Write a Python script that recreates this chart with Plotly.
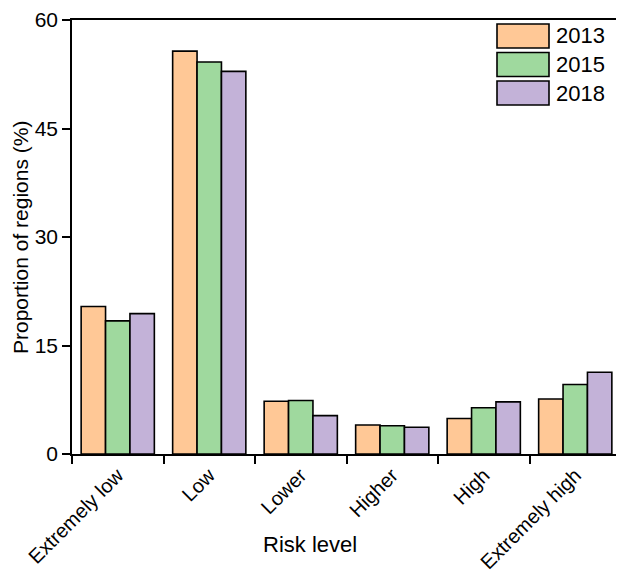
import plotly.graph_objects as go

# risk level categories and the share of regions (%) per year
levels = ['Extremely low', 'Low', 'Lower', 'Higher', 'High', 'Extremely high']
years = ['2013', '2015', '2018']
p2013 = [20.4, 55.7, 7.3, 4.0, 4.9, 7.6]
p2015 = [18.4, 54.2, 7.4, 3.9, 6.4, 9.6]
p2018 = [19.4, 52.9, 5.3, 3.7, 7.2, 11.3]
y_ticks = [0, 15, 30, 45, 60]

colors = ['#FFC896', '#9FD99E', '#C3B2D8']
font = 'Liberation Sans, Arial, sans-serif'

# page body has an 8px margin, so the figure is a bit smaller than the window
OFF = 8
FW, FH = 624 - OFF, 577 - OFF
L, R, T, B = 64, 3, 12, 123
W, H = FW - L - R, FH - T - B


def px(x):
    # window pixel -> paper x
    return (x - OFF - L) / W


def py(y):
    # window pixel -> paper y
    return 1 - (y - OFF - T) / H


fig = go.Figure()
for name, vals, col in zip(years, [p2013, p2015, p2018], colors):
    fig.add_trace(go.Bar(
        x=levels, y=vals, name=name,
        marker=dict(color=col, line=dict(color='black', width=1.6)),
        showlegend=False
    ))

# legend drawn by hand so the swatches are wide like the original
for i, (name, col) in enumerate(zip(years, colors)):
    top = 24 + 28.5 * i
    bot = top + 24
    fig.add_shape(type='rect', xref='paper', yref='paper',
                  x0=px(497), x1=px(549), y0=py(bot), y1=py(top),
                  fillcolor=col, line=dict(color='black', width=1.6))
    fig.add_annotation(xref='paper', yref='paper', x=px(554),
                       y=py((top + bot) / 2), text=name,
                       showarrow=False, xanchor='left', yanchor='middle',
                       font=dict(size=22, color='black', family=font))

# axis titles as annotations (they sit between the slanted labels)
fig.add_annotation(xref='paper', yref='paper', x=px(310), y=py(544),
                   text='Risk level', showarrow=False,
                   xanchor='center', yanchor='middle',
                   font=dict(size=22, color='black', family=font))
fig.add_annotation(xref='paper', yref='paper', x=px(20), y=py(238),
                   text='Proportion of regions (%)',
                   textangle=-90, showarrow=False,
                   xanchor='center', yanchor='middle',
                   font=dict(size=21, color='black', family=font))

fig.update_layout(
    width=FW, height=FH,
    margin=dict(l=L, r=R, t=T, b=B),
    plot_bgcolor='white', paper_bgcolor='white',
    barmode='group', bargap=0.2, bargroupgap=0,
    font=dict(family=font, size=20, color='black'),
)
fig.update_xaxes(
    automargin=False, ticklabeloverflow='allow',
    tickangle=-45, tickson='boundaries', ticks='outside', ticklen=8,
    tickwidth=1.6, tickcolor='black',
    showline=True, linecolor='black', linewidth=1.6, mirror=True,
    tickfont=dict(size=20)
)
fig.update_yaxes(
    automargin=False, ticklabeloverflow='allow',
    range=[0, 60], tickvals=y_ticks, ticks='outside', ticklen=8,
    tickwidth=1.6, tickcolor='black',
    showline=True, linecolor='black', linewidth=1.6, mirror=True,
    showgrid=False, zeroline=False, tickfont=dict(size=21)
)

fig.write_html('out.html')
